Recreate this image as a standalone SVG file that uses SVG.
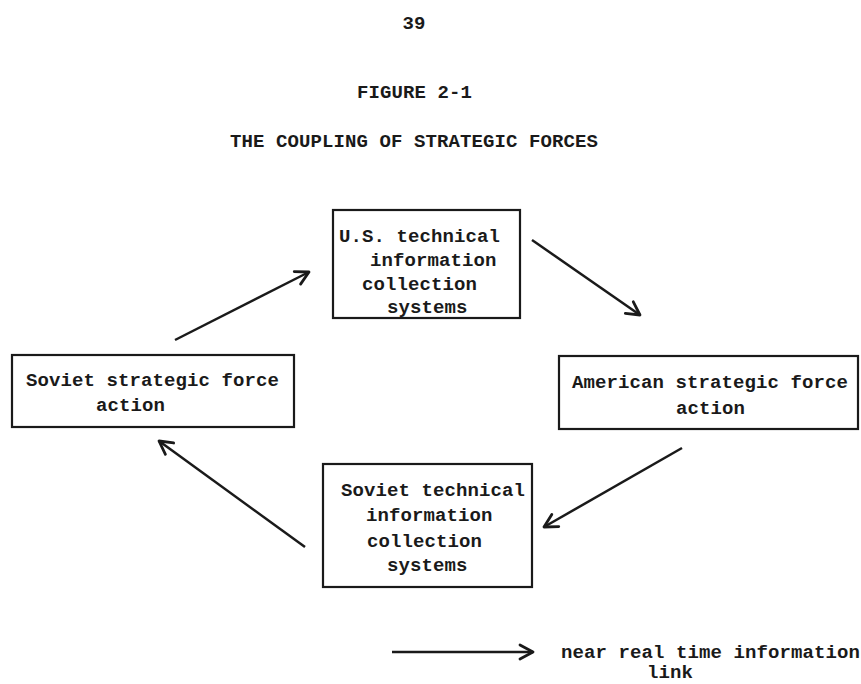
<svg xmlns="http://www.w3.org/2000/svg" width="861" height="684" viewBox="0 0 861 684">
<defs>
<style>
.t{font-family:"Liberation Mono","DejaVu Sans Mono",monospace;font-size:19px;font-weight:bold;fill:#1a1a1a;letter-spacing:0.1px}
.box{fill:none;stroke:#1a1a1a;stroke-width:2.2}
.ln{fill:none;stroke:#1a1a1a;stroke-width:2.5;marker-end:url(#ah)}
</style>
<marker id="ah" markerUnits="userSpaceOnUse" viewBox="-16 -10 20 20" refX="0" refY="0" markerWidth="20" markerHeight="20" orient="auto">
<path d="M-13,-7 L0,0 L-13,7" fill="none" stroke="#1a1a1a" stroke-width="2.8" stroke-linejoin="round" stroke-linecap="round"/>
</marker>
</defs>
<rect width="861" height="684" fill="#ffffff"/>
<g id="header">
<text class="t" x="414" y="29" text-anchor="middle">39</text>
<text class="t" x="357" y="98">FIGURE 2-1</text>
<text class="t" x="230" y="147">THE COUPLING OF STRATEGIC FORCES</text>
</g>
<g id="us-tech">
<rect class="box" x="333" y="210" width="187" height="108"/>
<text class="t" x="339" y="242">U.S. technical</text>
<text class="t" x="370" y="266">information</text>
<text class="t" x="362" y="290">collection</text>
<text class="t" x="387" y="313">systems</text>
</g>
<g id="soviet-force">
<rect class="box" x="12" y="355" width="282" height="72"/>
<text class="t" x="26" y="386">Soviet strategic force</text>
<text class="t" x="96" y="411">action</text>
</g>
<g id="american-force">
<rect class="box" x="559" y="356" width="299" height="73"/>
<text class="t" x="572" y="388">American strategic force</text>
<text class="t" x="676" y="414">action</text>
</g>
<g id="soviet-tech">
<rect class="box" x="323" y="464" width="209" height="123"/>
<text class="t" x="341" y="496">Soviet technical</text>
<text class="t" x="366" y="521">information</text>
<text class="t" x="367" y="547">collection</text>
<text class="t" x="387" y="571">systems</text>
</g>
<g id="connectors">
<line class="ln" x1="175" y1="340" x2="309" y2="272"/>
<line class="ln" x1="532" y1="240" x2="640" y2="315"/>
<line class="ln" x1="682" y1="448" x2="544" y2="527"/>
<line class="ln" x1="305" y1="547" x2="159" y2="441"/>
</g>
<g id="legend">
<line class="ln" x1="392" y1="652" x2="533" y2="652"/>
<text class="t" x="561" y="658">near real time information</text>
<text class="t" x="647" y="678">link</text>
</g>
</svg>
